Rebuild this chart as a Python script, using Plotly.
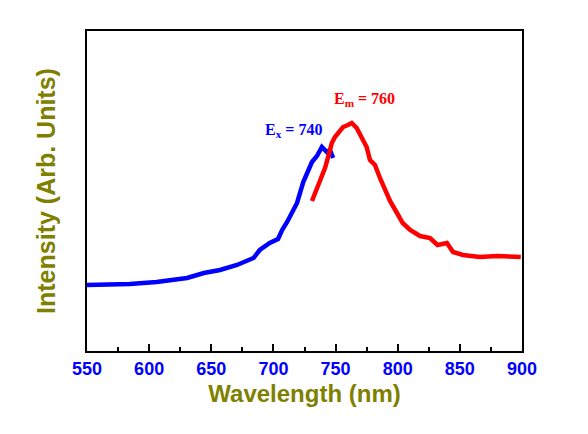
import plotly.graph_objects as go

# Excitation spectrum (blue)
ex_wavelength = [550, 568.5, 582, 584.6, 606, 620, 630.5, 644, 657, 670.7, 684, 689, 697,
                 703.7, 707, 711, 713, 719, 724, 727, 731, 735, 739, 743, 745.5, 748]
ex_intensity = [66, 66, 66, 67, 69, 71, 73, 78, 81, 86, 93, 101, 108,
                112, 121, 129, 134, 148, 169, 178, 189, 195, 204, 199, 201, 193]

# Emission spectrum (red)
em_wavelength = [731, 735, 739, 741.5, 744, 747, 749.5, 753.5, 756, 760, 763, 767, 771, 775,
                 777.7, 781.7, 785.7, 789.7, 793.8, 799.4, 804, 810, 818, 826, 832, 839.6,
                 844.5, 852.5, 866, 880, 899]
em_intensity = [150, 163, 174, 183, 194, 208, 214, 221, 224, 226, 228, 223, 214, 204,
                191, 186, 173, 161, 150, 138, 128, 121, 115, 113, 106, 108,
                99, 96, 94, 95, 94]

x_ticks = [550, 600, 650, 700, 750, 800, 850, 900]
x_minor_ticks = [575, 625, 675, 725, 775, 825, 875]

fig = go.Figure()
fig.add_trace(go.Scatter(x=ex_wavelength, y=ex_intensity, mode="lines",
                         line=dict(color="#0000ff", width=4.5),
                         showlegend=False))
fig.add_trace(go.Scatter(x=em_wavelength, y=em_intensity, mode="lines",
                         line=dict(color="#ff0000", width=4.5),
                         showlegend=False))

fig.add_annotation(x=740.5, y=221, xref="x", yref="y", text="<b>E<sub>x</sub> = 740</b>",
                   showarrow=False, font=dict(family="Liberation Serif", size=16, color="#0000ff"),
                   xanchor="right", yanchor="middle")
fig.add_annotation(x=773.5, y=252, xref="x", yref="y", text="<b>E<sub>m</sub> = 760</b>",
                   showarrow=False, font=dict(family="Liberation Serif", size=16, color="#ff0000"),
                   xanchor="center", yanchor="middle")

fig.update_layout(
    width=588, height=434,
    margin=dict(l=87, r=66, t=31, b=83),
    paper_bgcolor="white", plot_bgcolor="white",
    font=dict(family="Liberation Sans, Arial", color="black"),
)
fig.update_xaxes(
    range=[550, 900], tickvals=x_ticks, ticks="inside", ticklen=7, tickwidth=2,
    tickcolor="black", showline=True, linecolor="black", linewidth=2, mirror=True,
    showgrid=False, zeroline=False,
    tickfont=dict(family="Liberation Sans, Arial", size=18, color="#0000ff", weight="bold"),
    minor=dict(tickvals=x_minor_ticks, ticks="inside", ticklen=4,
               tickwidth=2, tickcolor="black", showgrid=False),
    title=dict(text="Wavelength (nm)", standoff=8,
               font=dict(family="Liberation Sans, Arial", size=24, color="#808000", weight="bold")),
)
fig.update_yaxes(
    range=[0, 320], showticklabels=False, ticks="", showline=True, linecolor="black",
    linewidth=2, mirror=True, showgrid=False, zeroline=False,
    title=dict(text="Intensity (Arb. Units)", standoff=22,
               font=dict(family="Liberation Sans, Arial", size=25, color="#808000", weight="bold")),
)

fig.write_html("out.html", config={"displayModeBar": False},
               post_script="document.body.style.margin='0';document.body.style.padding='0';")
